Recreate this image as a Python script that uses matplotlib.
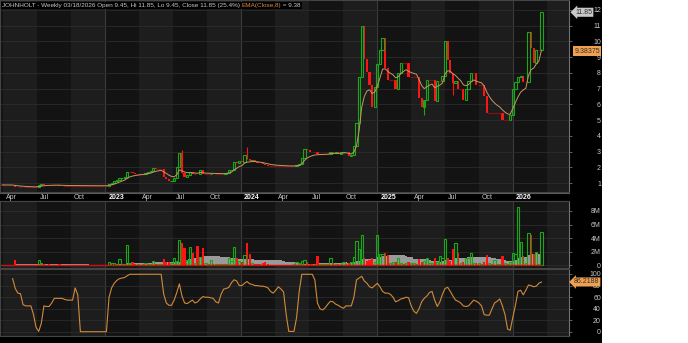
import numpy as np
import pandas as pd
import matplotlib
matplotlib.use('Agg')
import matplotlib.pyplot as plt
import matplotlib.dates as mdates
import matplotlib.transforms as mtransforms
from matplotlib.patches import Rectangle

plt.rcParams['font.family'] = ['Liberation Sans', 'DejaVu Sans']

# weekly bars, last one is Wed 03/18/2026
dates = pd.date_range(end='2026-03-18', periods=208, freq='7D')

close = [
    0.88, 0.88, 0.87, 0.87, 0.86, 0.76, 0.75, 0.75, 0.74, 0.74,
    0.74, 0.74, 0.74, 0.74, 0.85, 0.92, 0.90, 0.90, 0.88, 0.88,
    0.88, 0.88, 0.84, 0.83, 0.83, 0.83, 0.83, 0.83, 0.83, 0.83,
    0.83, 0.83, 0.83, 0.83, 0.83, 0.83, 0.83, 0.83, 0.83, 0.82,
    0.82, 0.95, 1.00, 1.10, 1.20, 1.30, 1.35, 1.40, 1.70, 1.70,
    1.62, 1.60, 1.60, 1.60, 1.60, 1.65, 1.72, 1.75, 1.93, 1.90,
    1.90, 1.90, 1.40, 1.25, 1.10, 1.15, 1.30, 2.00, 2.90, 1.62,
    1.40, 1.50, 1.70, 1.60, 1.60, 1.55, 1.85, 1.58, 1.58, 1.58,
    1.60, 1.58, 1.58, 1.58, 1.58, 1.60, 1.62, 1.80, 1.85, 2.35,
    2.30, 2.40, 2.35, 2.80, 2.55, 2.40, 2.45, 2.35, 2.30, 2.25,
    2.20, 2.12, 2.07, 2.07, 2.07, 2.07, 2.07, 2.07, 2.07, 2.07,
    2.07, 2.07, 2.07, 2.15, 2.20, 2.60, 3.15, 3.10, 3.00, 2.95,
    2.95, 2.85, 2.85, 2.85, 2.85, 2.85, 3.00, 2.90, 2.95, 2.85,
    2.95, 3.00, 2.95, 2.70, 2.75, 3.35, 4.80, 7.75, 11.00, 8.90,
    8.05, 7.20, 5.85, 7.10, 8.55, 9.45, 10.20, 8.30, 7.55, 7.55,
    7.55, 7.00, 8.00, 8.60, 8.60, 8.60, 7.75, 7.75, 7.75, 7.75,
    6.40, 5.85, 6.30, 7.55, 7.55, 7.55, 6.20, 7.50, 7.50, 7.80,
    10.00, 8.80, 8.00, 7.35, 7.50, 7.00, 7.00, 6.30, 7.00, 7.50,
    8.00, 8.00, 7.20, 7.20, 7.20, 6.50, 5.45, 5.45, 5.45, 5.45,
    5.45, 5.45, 5.00, 5.00, 5.00, 5.30, 7.00, 7.45, 7.75, 7.80,
    7.40, 7.40, 10.60, 9.55, 8.65, 9.45, 9.45, 11.85,
]

# the few visible wicks: week index, high, low
wick_idx = [69, 94, 162, 173]
wick_hi = [3.10, 3.30, 6.30, 7.70]
wick_lo = [1.62, 2.55, 5.30, 6.60]

volume_m = [
    0.05, 0.05, 0.03, 0.03, 0.05, 0.75, 0.05, 0.02, 0.02, 0.02,
    0.02, 0.02, 0.02, 0.02, 0.70, 0.30, 0.10, 0.05, 0.08, 0.03,
    0.02, 0.02, 0.10, 0.03, 0.02, 0.02, 0.02, 0.02, 0.02, 0.02,
    0.02, 0.02, 0.02, 0.02, 0.02, 0.02, 0.02, 0.02, 0.02, 0.05,
    0.03, 0.50, 0.25, 0.30, 0.20, 0.85, 0.20, 0.15, 3.00, 0.30,
    0.50, 0.10, 0.10, 0.05, 0.10, 0.30, 0.20, 0.15, 0.60, 0.10,
    0.10, 0.10, 0.90, 0.40, 0.50, 0.30, 1.00, 0.60, 3.70, 3.20,
    2.50, 0.80, 2.60, 1.80, 0.30, 2.80, 1.20, 2.50, 0.30, 0.20,
    0.80, 0.10, 0.10, 0.10, 0.10, 0.15, 0.20, 1.10, 0.60, 2.70,
    1.00, 0.60, 0.40, 1.50, 3.20, 1.60, 0.30, 0.20, 0.20, 0.15,
    0.30, 0.40, 0.10, 0.05, 0.05, 0.05, 0.05, 0.05, 0.05, 0.05,
    0.05, 0.05, 0.10, 0.40, 0.30, 0.60, 0.80, 0.40, 0.20, 0.20,
    0.20, 1.30, 0.10, 0.10, 0.20, 0.10, 1.00, 0.30, 0.20, 0.20,
    0.20, 0.50, 0.20, 0.30, 0.40, 1.20, 3.55, 2.40, 4.40, 1.00,
    0.60, 0.80, 1.00, 0.50, 4.40, 1.60, 1.60, 1.80, 1.50, 0.30,
    0.40, 0.40, 1.00, 0.30, 0.20, 0.30, 0.40, 0.30, 0.30, 0.20,
    0.85, 0.40, 0.60, 1.00, 0.30, 0.30, 1.00, 0.50, 1.30, 1.00,
    3.80, 1.00, 0.60, 2.30, 3.20, 1.75, 0.30, 0.40, 1.00, 1.00,
    1.80, 0.30, 0.30, 0.30, 0.20, 0.40, 1.50, 0.30, 0.20, 0.70,
    0.20, 0.20, 1.40, 0.30, 0.20, 0.40, 1.80, 1.60, 8.60, 3.45,
    1.40, 0.30, 4.80, 4.40, 1.60, 1.95, 0.10, 4.88,
]

mfi = [
    np.nan, np.nan, np.nan, np.nan, 92, 75, 67, 66, 47, 45,
    45, 45, 30, 8, 1, 15, 45, 44, 44, 50,
    58, 58, 58, 58, 56, 55, 55, 55, 76, 64,
    0.5, 0.5, 0.5, 0.5, 0.5, 0.5, 0.5, 0.5, 0.5, 0.5,
    0.5, 60, 76, 84, 89, 92, 93, 94, 97, 99.5,
    99.5, 99.5, 99.5, 99.5, 99.5, 99.5, 99.5, 99.5, 99.5, 99.5,
    99.5, 99.5, 65, 50, 46, 46, 55, 68, 83, 62,
    50, 49, 52, 55, 50, 52, 57, 61, 60, 60,
    59, 58, 52, 50, 65, 74, 75, 77, 85, 90,
    88, 80, 80, 84, 87, 83, 82, 80, 80, 79,
    79, 78, 76, 70, 67, 72, 78, 74, 69, 30,
    1, 1, 1, 25, 70, 99.5, 99.5, 99.5, 99.5, 99.5,
    90, 50, 40, 38, 42, 48, 53, 52, 48, 46,
    43, 41, 45, 45, 45, 60, 90, 93, 96, 88,
    84, 78, 76, 80, 84, 78, 70, 67, 67, 65,
    60, 52, 54, 57, 58, 60, 59, 45, 36, 32,
    40, 52, 58, 62, 68, 70, 55, 44, 52, 65,
    75, 77, 70, 62, 55, 53, 50, 45, 44, 45,
    50, 55, 53, 50, 45, 30, 29, 29, 40, 50,
    53, 57, 45, 30, 5, 3, 25, 46, 70, 72,
    64, 72, 81, 80, 78, 79, 84, 86.22,
]

price_ticks = [1, 2, 3, 4, 5, 6, 7, 8, 9, 10, 11, 12]
vol_ticks = [0, 2, 4, 6, 8]
vol_tick_labels = ['0', '2M', '4M', '6M', '8M']
mfi_ticks = [0, 20, 40, 60, 80, 100]

close = np.array(close)
opn = np.r_[close[0], close[:-1]]
volume_m = np.array(volume_m)
ema = pd.Series(close).ewm(span=8, adjust=False).mean().values
vol_avg = pd.Series(volume_m).rolling(20, min_periods=1).mean().values

GREEN = '#18a818'
RED = '#ff1414'
DOJI = '#8a1010'
BG_DARK = '#131313'
BG_LIGHT = '#1d1d1d'
GRID = '#2c2c2c'
TXT = '#c8c8c8'
ORANGE = '#f0a050'

W, H = 688, 343
def box(l, t, r, b):
    return [l / W, 1 - b / H, (r - l) / W, (b - t) / H]

fig = plt.figure(figsize=(W / 100, H / 100), dpi=100)
fig.patch.set_facecolor('white')
fig.add_artist(Rectangle((0, 0), 602 / W, 1, transform=fig.transFigure,
                         facecolor='black', edgecolor='none', zorder=-5))

ax1 = fig.add_axes(box(0, 0, 569, 192))
axs = fig.add_axes(box(0, 193, 569, 201), sharex=ax1)
ax2 = fig.add_axes(box(0, 201, 569, 268), sharex=ax1)
ax3 = fig.add_axes(box(0, 269, 569, 336), sharex=ax1)

x0 = mdates.date2num(pd.Timestamp('2022-03-24'))
x1 = mdates.date2num(pd.Timestamp('2026-05-31'))
quarters = pd.date_range('2022-01-01', '2026-07-01', freq='QS')

for ax in (ax1, ax2, ax3):
    ax.set_facecolor(BG_DARK)
    for q in quarters[:-1]:
        if q.month in (4, 10):
            ax.axvspan(q, q + pd.DateOffset(months=3), color=BG_LIGHT, lw=0, zorder=0)
    for q in quarters:
        if q.month == 1:
            ax.axvline(q, color='#3a3a3a', lw=0.8, zorder=0.5)
    ax.yaxis.tick_right()
    ax.tick_params(axis='x', bottom=False, labelbottom=False)
    ax.tick_params(axis='y', colors=TXT, labelsize=5, length=2, pad=21,
                   width=0.6, color='#707070')
    ax.grid(axis='y', color=GRID, lw=0.6, zorder=0.6)
    for s in ax.spines.values():
        s.set_color('#444444')
        s.set_linewidth(0.8)
    ax.spines['right'].set_color('#707070')

ax1.set_xlim(x0, x1)

# price candles
up = close > opn
dn = close < opn
fl = close == opn
body_w = 6.0
ax1.bar(dates[dn], (opn - close)[dn], bottom=close[dn], width=body_w,
        color=RED, lw=0, zorder=2)
ax1.bar(dates[up], (close - opn)[up], bottom=opn[up], width=body_w,
        facecolor='none', edgecolor=GREEN, lw=0.8, zorder=2)
ax1.hlines(close[fl], dates[fl] - pd.Timedelta(days=3.5), dates[fl] + pd.Timedelta(days=3.5),
           color=DOJI, lw=0.9, zorder=2)
wcol = [GREEN if close[i] >= opn[i] else RED for i in wick_idx]
ax1.vlines(dates[wick_idx], wick_lo, wick_hi, colors=wcol, lw=0.8, zorder=1.9)
ax1.plot(dates, ema, color='#c89664', lw=0.7, zorder=3)
ax1.set_ylim(0.43, 12.63)
ax1.set_yticks(price_ticks)
plt.setp(ax1.get_yticklabels(), ha='right')

# date strip
axs.set_facecolor('black')
axs.set_yticks([])
axs.tick_params(axis='x', bottom=False, labelbottom=False)
for s in ('left', 'right'):
    axs.spines[s].set_visible(False)
for s in ('top', 'bottom'):
    axs.spines[s].set_color('#5a5a5a')
    axs.spines[s].set_linewidth(0.8)
offs = mtransforms.offset_copy(axs.transData, fig=fig, x=3, y=0, units='dots')
lbl_trans = mtransforms.blended_transform_factory(offs, axs.transAxes)
for q in quarters:
    if q < pd.Timestamp('2022-04-01') or q > pd.Timestamp('2026-01-01'):
        continue
    if q.month == 1:
        axs.text(q, 0.45, str(q.year), transform=lbl_trans, color='white',
                 fontsize=5, fontweight='bold', ha='left', va='center')
    else:
        axs.text(q, 0.45, q.strftime('%b'), transform=lbl_trans, color=TXT,
                 fontsize=5, ha='left', va='center')

# volume
vup = close >= opn
ax2.fill_between(dates, 0, vol_avg, step='mid', color='#9a9a9a', lw=0, zorder=1)
ax2.bar(dates[~vup], volume_m[~vup], width=body_w, color=RED, lw=0, zorder=2)
ax2.bar(dates[vup], volume_m[vup], width=body_w, facecolor='none',
        edgecolor=GREEN, lw=0.8, zorder=2)
ax2.plot([dates[0], dates[-1]], [0, 0], color='#cc1010', lw=1.0, zorder=2.5)
ax2.set_ylim(-0.44, 9.48)
ax2.set_yticks(vol_ticks)
ax2.set_yticklabels(vol_tick_labels)
plt.setp(ax2.get_yticklabels(), ha='right')

# MFI
ax3.plot(dates, mfi, color='#d08a3a', lw=0.8, zorder=3)
ax3.set_ylim(-6.9, 108.6)
ax3.set_yticks(mfi_ticks)
plt.setp(ax3.get_yticklabels(), ha='right')

# right-side value tags
bt1 = mtransforms.blended_transform_factory(ax1.transAxes, ax1.transData)
ax1.text(1.026, 11.85, '11.85', transform=bt1, ha='center', va='center', fontsize=5,
         color='#303030', zorder=5,
         bbox=dict(boxstyle='larrow,pad=0.15', fc='#c8c8c8', ec='none'))
ax1.text(1.032, 9.38, '9.38375', transform=bt1, ha='center', va='center', fontsize=5,
         color='#303030', zorder=5,
         bbox=dict(boxstyle='square,pad=0.2', fc=ORANGE, ec='none'))
bt3 = mtransforms.blended_transform_factory(ax3.transAxes, ax3.transData)
ax3.text(1.031, 86.22, '86.2188', transform=bt3, ha='center', va='center', fontsize=5,
         color='#303030', zorder=5,
         bbox=dict(boxstyle='larrow,pad=0.15', fc=ORANGE, ec='none'))

# header texts, coloured pieces chained one after another
def header(x, y, parts):
    prev = None
    for s, c in parts:
        kw = dict(fontsize=4.6, color=c, va='center', ha='left', zorder=6,
                  bbox=dict(boxstyle='square,pad=0.12', fc='black', ec='none'))
        if prev is None:
            prev = ax1.annotate(s, xy=(x / W, 1 - y / H), xycoords='figure fraction',
                                annotation_clip=False, **kw)
        else:
            prev = ax1.annotate(s, xy=(1, 0.5), xycoords=prev,
                                annotation_clip=False, **kw)

header(2, 5.5, [('JOHNHOLT - Weekly 03/18/2026 Open 9.45, Hi 11.85, Lo 9.45, Close 11.85 (25.4%) ', TXT),
                ('EMA(Close,8)', '#e08a40'), (' = 9.38', TXT)])
header(2, 205.5, [('SellVolume:   0   BuyVolume:4,880,060   VolumeIndex:3.13   BuyVolume:100%   SellVolume: 0%', TXT)])
header(2, 273.5, [('JOHNHOLT - ', TXT), ('MFI(14)', '#e08a40'), (' = 86.22', TXT)])

fig.savefig('out.png', dpi=100, facecolor=fig.get_facecolor())
